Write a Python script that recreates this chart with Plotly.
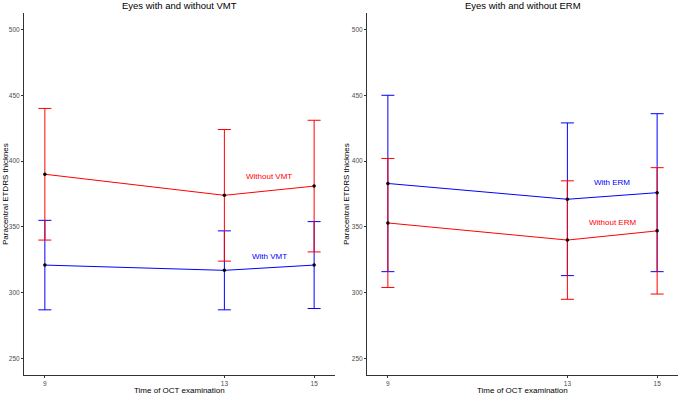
import plotly.graph_objects as go

times = [9, 13, 15]

# Left panel: VMT
vmt_without_mean = [390, 374, 381]
vmt_without_upper = [440, 424, 431]
vmt_without_lower = [340, 324, 331]
vmt_with_mean = [321, 317, 321]
vmt_with_upper = [355, 347, 354]
vmt_with_lower = [287, 287, 288]

# Right panel: ERM
erm_with_mean = [383, 371, 376]
erm_with_upper = [450, 429, 436]
erm_with_lower = [316, 313, 316]
erm_without_mean = [353, 340, 347]
erm_without_upper = [402, 385, 395]
erm_without_lower = [304, 295, 299]

titles = ["Eyes with and without VMT", "Eyes with and without ERM"]
y_ticks = [250, 300, 350, 400, 450, 500]

RED = "#FF0000"
BLUE = "#0000FF"

W, H = 678, 394
fig = go.Figure()


def add_series(mean, upper, lower, color, xa, ya):
    fig.add_trace(go.Scatter(
        x=times, y=mean, mode="lines", xaxis=xa, yaxis=ya,
        line=dict(color=color, width=1),
        error_y=dict(type="data", symmetric=False,
                     array=[u - m for u, m in zip(upper, mean)],
                     arrayminus=[m - l for m, l in zip(mean, lower)],
                     color=color, thickness=1, width=6.5),
        showlegend=False, hoverinfo="skip"))


def add_points(mean, xa, ya):
    fig.add_trace(go.Scatter(
        x=times, y=mean, mode="markers", xaxis=xa, yaxis=ya,
        marker=dict(color="black", size=3.5, symbol="circle"),
        showlegend=False, hoverinfo="skip"))


add_series(vmt_with_mean, vmt_with_upper, vmt_with_lower, BLUE, "x", "y")
add_series(vmt_without_mean, vmt_without_upper, vmt_without_lower, RED, "x", "y")
add_points(vmt_without_mean, "x", "y")
add_points(vmt_with_mean, "x", "y")

add_series(erm_with_mean, erm_with_upper, erm_with_lower, BLUE, "x2", "y2")
add_series(erm_without_mean, erm_without_upper, erm_without_lower, RED, "x2", "y2")
add_points(erm_with_mean, "x2", "y2")
add_points(erm_without_mean, "x2", "y2")

ydom = [(H - 375) / H, (H - 13) / H]
axis_common = dict(showgrid=False, zeroline=False, showline=True,
                   linecolor="#333333", linewidth=1, ticks="outside",
                   ticklen=2, tickcolor="#333333", tickwidth=1,
                   tickfont=dict(family="Liberation Sans, Arial", size=6.5, color="#4d4d4d"))

fig.update_layout(
    width=W, height=H, margin=dict(l=0, r=0, t=0, b=0),
    plot_bgcolor="white", paper_bgcolor="white",
    xaxis=dict(domain=[24 / W, 335 / W], range=[8.535, 15.465], tickvals=times,
               anchor="y", **axis_common),
    yaxis=dict(domain=ydom, range=[237.5, 512.5], tickvals=y_ticks, anchor="x", **axis_common),
    xaxis2=dict(domain=[367 / W, 678 / W], range=[8.535, 15.465], tickvals=times,
                anchor="y2", **axis_common),
    yaxis2=dict(domain=ydom, range=[237.5, 512.5], tickvals=y_ticks, anchor="x2", **axis_common),
)

font_txt = "Liberation Sans, Arial"
ann = []
for cx, t in zip([(24 + 335) / 2 / W, (367 + 678) / 2 / W], titles):
    ann.append(dict(text=t, x=cx, y=1, xref="paper", yref="paper",
                    showarrow=False, xanchor="center", yanchor="top", yshift=2,
                    font=dict(family=font_txt, size=9.5, color="black")))
    ann.append(dict(text="Time of OCT examination", x=cx, y=0, xref="paper", yref="paper",
                    showarrow=False, xanchor="center", yanchor="bottom", yshift=-2,
                    borderpad=0,
                    font=dict(family=font_txt, size=8, color="black")))
for px in [-1.5, 339.5]:
    ann.append(dict(text="Paracentral ETDRS thicknes", x=px / W, y=(H - 194) / H,
                    xref="paper", yref="paper", showarrow=False, textangle=-90,
                    xanchor="left", yanchor="middle",
                    font=dict(family=font_txt, size=8, color="black")))

labels = [
    ("Without VMT", 14.0, 388, RED, "x", "y"),
    ("With VMT", 14.0, 327.5, BLUE, "x", "y"),
    ("With ERM", 14.0, 383.5, BLUE, "x2", "y2"),
    ("Without ERM", 14.0, 353.5, RED, "x2", "y2"),
]
for txt, lx, ly, c, xa, ya in labels:
    ann.append(dict(text=txt, x=lx, y=ly, xref=xa, yref=ya, showarrow=False,
                    xanchor="center", yanchor="middle",
                    font=dict(family=font_txt, size=8, color=c)))

fig.update_layout(annotations=ann)
fig.write_html("out.html", config={"displayModeBar": False},
               post_script="document.body.style.margin='0';")
